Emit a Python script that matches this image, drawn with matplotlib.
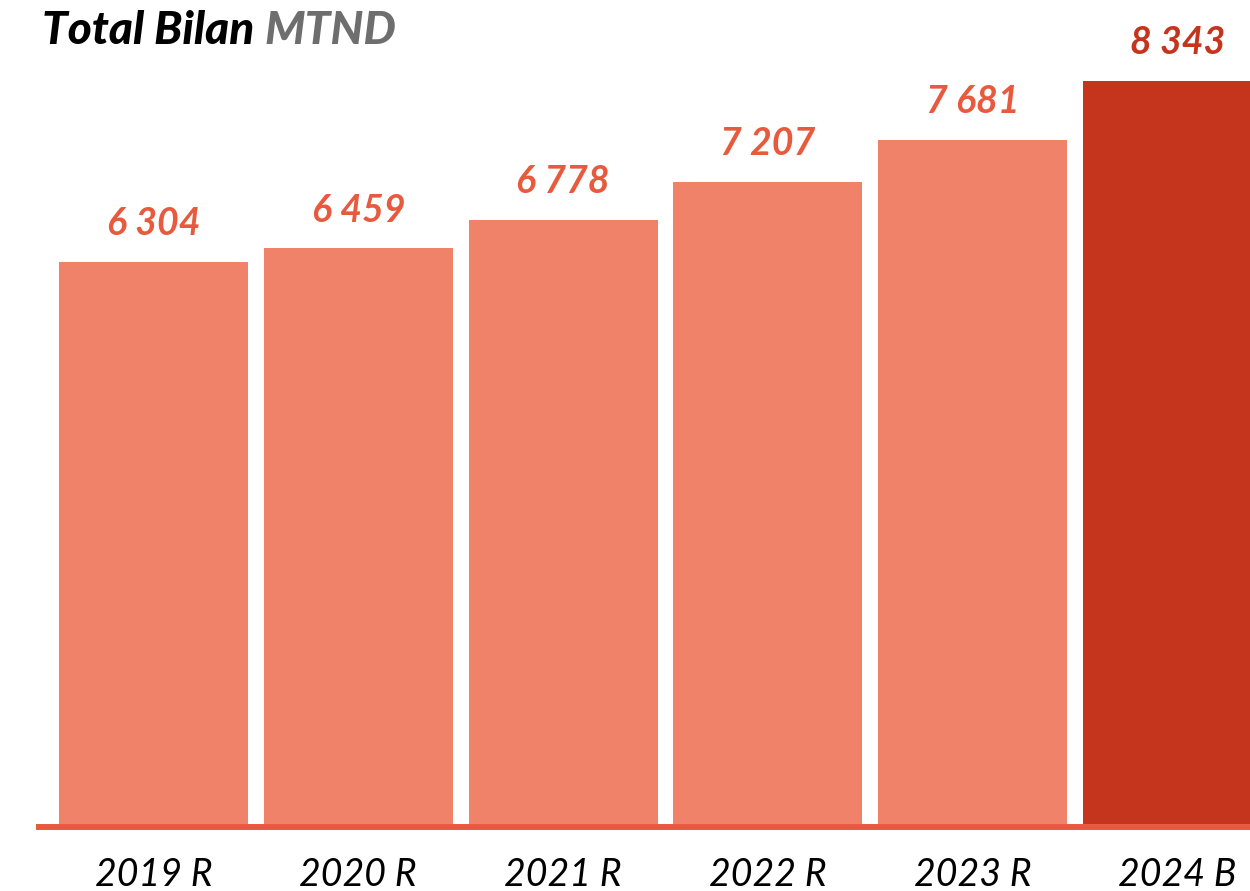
import matplotlib
matplotlib.use("Agg")
import matplotlib.pyplot as plt

plt.rcParams['font.family'] = ['Lato', 'DejaVu Sans']

# donnees
annees = ["2019 R", "2020 R", "2021 R", "2022 R", "2023 R", "2024 B"]
valeurs = [6304, 6459, 6778, 7207, 7681, 8343]
etiquettes = ["6 304", "6 459", "6 778", "7 207", "7 681", "8 343"]

clair = "#F1826A"
fonce = "#C5351D"
ligne = "#E85A3E"

fig = plt.figure(figsize=(12.5, 8.91), dpi=100)
ax = fig.add_axes([0, 0.0752, 1, 0.9248])

x = list(range(len(valeurs)))
couleurs = [clair] * (len(valeurs) - 1) + [fonce]
ax.bar(x, valeurs, width=0.923, color=couleurs, zorder=2)

for i in x:
    c = fonce if i == len(valeurs) - 1 else ligne
    ax.annotate(etiquettes[i], (i, valeurs[i]), xytext=(0, 15),
                textcoords="offset points", ha="center", va="bottom",
                fontsize=27, style="italic", weight="bold", color=c)

ax.set_xlim(-0.7495, 5.354)
ax.set_ylim(0, 9248)
# trait de base sous les barres
ax.axhline(-36, xmin=0.031, xmax=1, color=ligne, lw=4.3, zorder=3,
           clip_on=False)

ax.set_xticks(x)
ax.set_xticklabels(annees, fontsize=27, style="italic", color="black")
ax.tick_params(axis="x", length=0, pad=24)
ax.set_yticks([])
for s in ax.spines.values():
    s.set_visible(False)

# titre en deux couleurs
t1 = fig.text(42 / 1250, 1 - 44 / 891, "Total Bilan ", fontsize=33,
              weight="black", style="italic", color="black")
fig.canvas.draw()
bb = t1.get_window_extent()
fig.text(bb.x1 / 1250, 1 - 44 / 891, "MTND", fontsize=33,
         weight="black", style="italic", color="#6E6E6E")

fig.savefig("out.png", dpi=100)
